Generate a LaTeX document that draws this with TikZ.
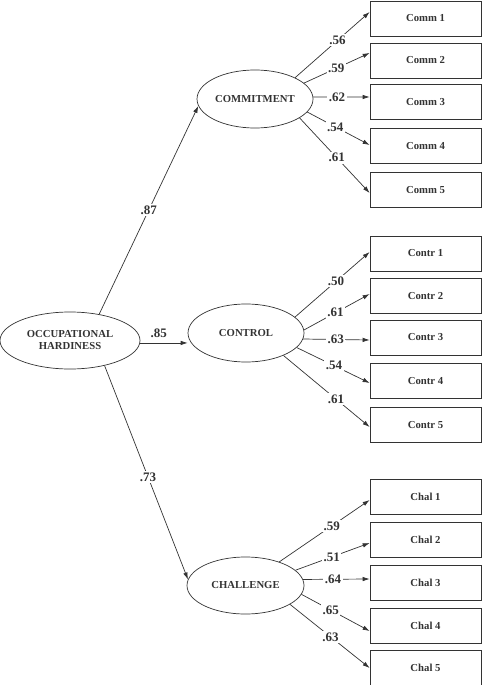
\documentclass[tikz,border=0pt]{standalone}
\usepackage{fontspec}
\setmainfont{Liberation Serif}
\usetikzlibrary{shapes.geometric,arrows.meta,calc}
\definecolor{ink}{HTML}{333333}
\newcommand\namefont{\fontsize{10.7bp}{12bp}\selectfont\bfseries}
\newcommand\coeffont{\fontsize{13bp}{14bp}\selectfont\bfseries}
\begin{document}
\begin{tikzpicture}[x=1bp,y=-1bp,
  lat/.style={ellipse, draw=ink, line width=0.7bp, inner sep=0pt, font=\namefont, text=ink, align=center},
  obs/.style={rectangle, draw=ink, line width=0.7bp, minimum width=111bp, minimum height=35bp, inner sep=0pt, font=\namefont, text=ink},
  conn/.style={draw=ink, line width=0.7bp, -{Latex[length=7bp,width=4.5bp]}},
  coef/.style={fill=white, inner sep=1.5bp, font=\coeffont, text=ink}]
\useasboundingbox (0,0) rectangle (482,685);
% latent variables
\node[lat, minimum width=140bp, minimum height=57bp] (hard) at (70,340.5) {OCCUPATIONAL\\HARDINESS};
\node[lat, minimum width=116bp, minimum height=58bp] (commit) at (255,99) {COMMITMENT};
\node[lat, minimum width=116bp, minimum height=58bp] (ctrl) at (246,333) {CONTROL};
\node[lat, minimum width=117bp, minimum height=57bp] (chal) at (245.5,585.5) {CHALLENGE};
% indicators
\node[obs] (cm1) at (425.5,18.5) {Comm 1};
\node[obs] (cm2) at (425.5,60.5) {Comm 2};
\node[obs] (cm3) at (425.5,102) {Comm 3};
\node[obs] (cm4) at (425.5,146) {Comm 4};
\node[obs] (cm5) at (425.5,190) {Comm 5};
\node[obs] (ct1) at (425.5,253.5) {Contr 1};
\node[obs] (ct2) at (425.5,296) {Contr 2};
\node[obs] (ct3) at (425.5,337.5) {Contr 3};
\node[obs] (ct4) at (425.5,381) {Contr 4};
\node[obs] (ct5) at (425.5,425) {Contr 5};
\node[obs] (ch1) at (425.5,497) {Chal 1};
\node[obs] (ch2) at (425.5,539.5) {Chal 2};
\node[obs] (ch3) at (425.5,583) {Chal 3};
\node[obs] (ch4) at (425.5,625.5) {Chal 4};
\node[obs] (ch5) at (425.5,668) {Chal 5};
% structural paths
\draw[conn] (hard.42.5) -- node[coef,pos=0.5]{.87} (commit.187);
\draw[conn] (hard.-2) -- node[coef,pos=0.39,above=3bp,fill=none]{.85} (hard.-2 -| ctrl.west);
\draw[conn] (hard.-36) -- node[coef,pos=0.52]{.73} (chal.174.5);
% commitment loadings
\draw[conn] (commit.28.2) -- node[coef,pos=0.57]{.56} ($(cm1.west)+(0,-6.5)$);
\draw[conn] (commit.18.8) -- node[coef,pos=0.49]{.59} ($(cm2.west)+(0,-7.5)$);
\draw[conn] (commit.2) -- node[coef,pos=0.42]{.62} ($(cm3.west)+(0,-5)$);
\draw[conn] (commit.-14.3) -- node[coef,pos=0.45]{.54} ($(cm4.west)+(0,-1)$);
\draw[conn] (commit.-23.8) -- node[coef,pos=0.53]{.61} ($(cm5.west)+(0,3)$);
% control loadings
\draw[conn] (ctrl.18.1) -- node[coef,pos=0.55]{.50} ($(ct1.west)+(0,-1.5)$);
\draw[conn] (ctrl.3.9) -- node[coef,pos=0.48]{.61} ($(ct2.west)+(0,-2)$);
\draw[conn] (ctrl.-6.9) -- node[coef,pos=0.49]{.63} ($(ct3.west)+(0,2.5)$);
\draw[conn] (ctrl.-16.1) -- node[coef,pos=0.51]{.54} ($(ct4.west)+(0,2)$);
\draw[conn] (ctrl.-31.6) -- node[coef,pos=0.61]{.61} ($(ct5.west)+(0,2)$);
% challenge loadings
\draw[conn] (chal.35) -- node[coef,pos=0.58]{.59} ($(ch1.west)+(0,3)$);
\draw[conn] (chal.17) -- node[coef,pos=0.49]{.51} ($(ch2.west)+(0,3.5)$);
\draw[conn] (chal.6.4) -- node[coef,pos=0.45]{.64} ($(ch3.west)+(0,-4)$);
\draw[conn] (chal.-9.4) -- node[coef,pos=0.43]{.65} ($(ch4.west)+(0,5.5)$);
\draw[conn] (chal.-23.8) -- node[coef,pos=0.51]{.63} ($(ch5.west)+(0,0)$);
\end{tikzpicture}
\end{document}
